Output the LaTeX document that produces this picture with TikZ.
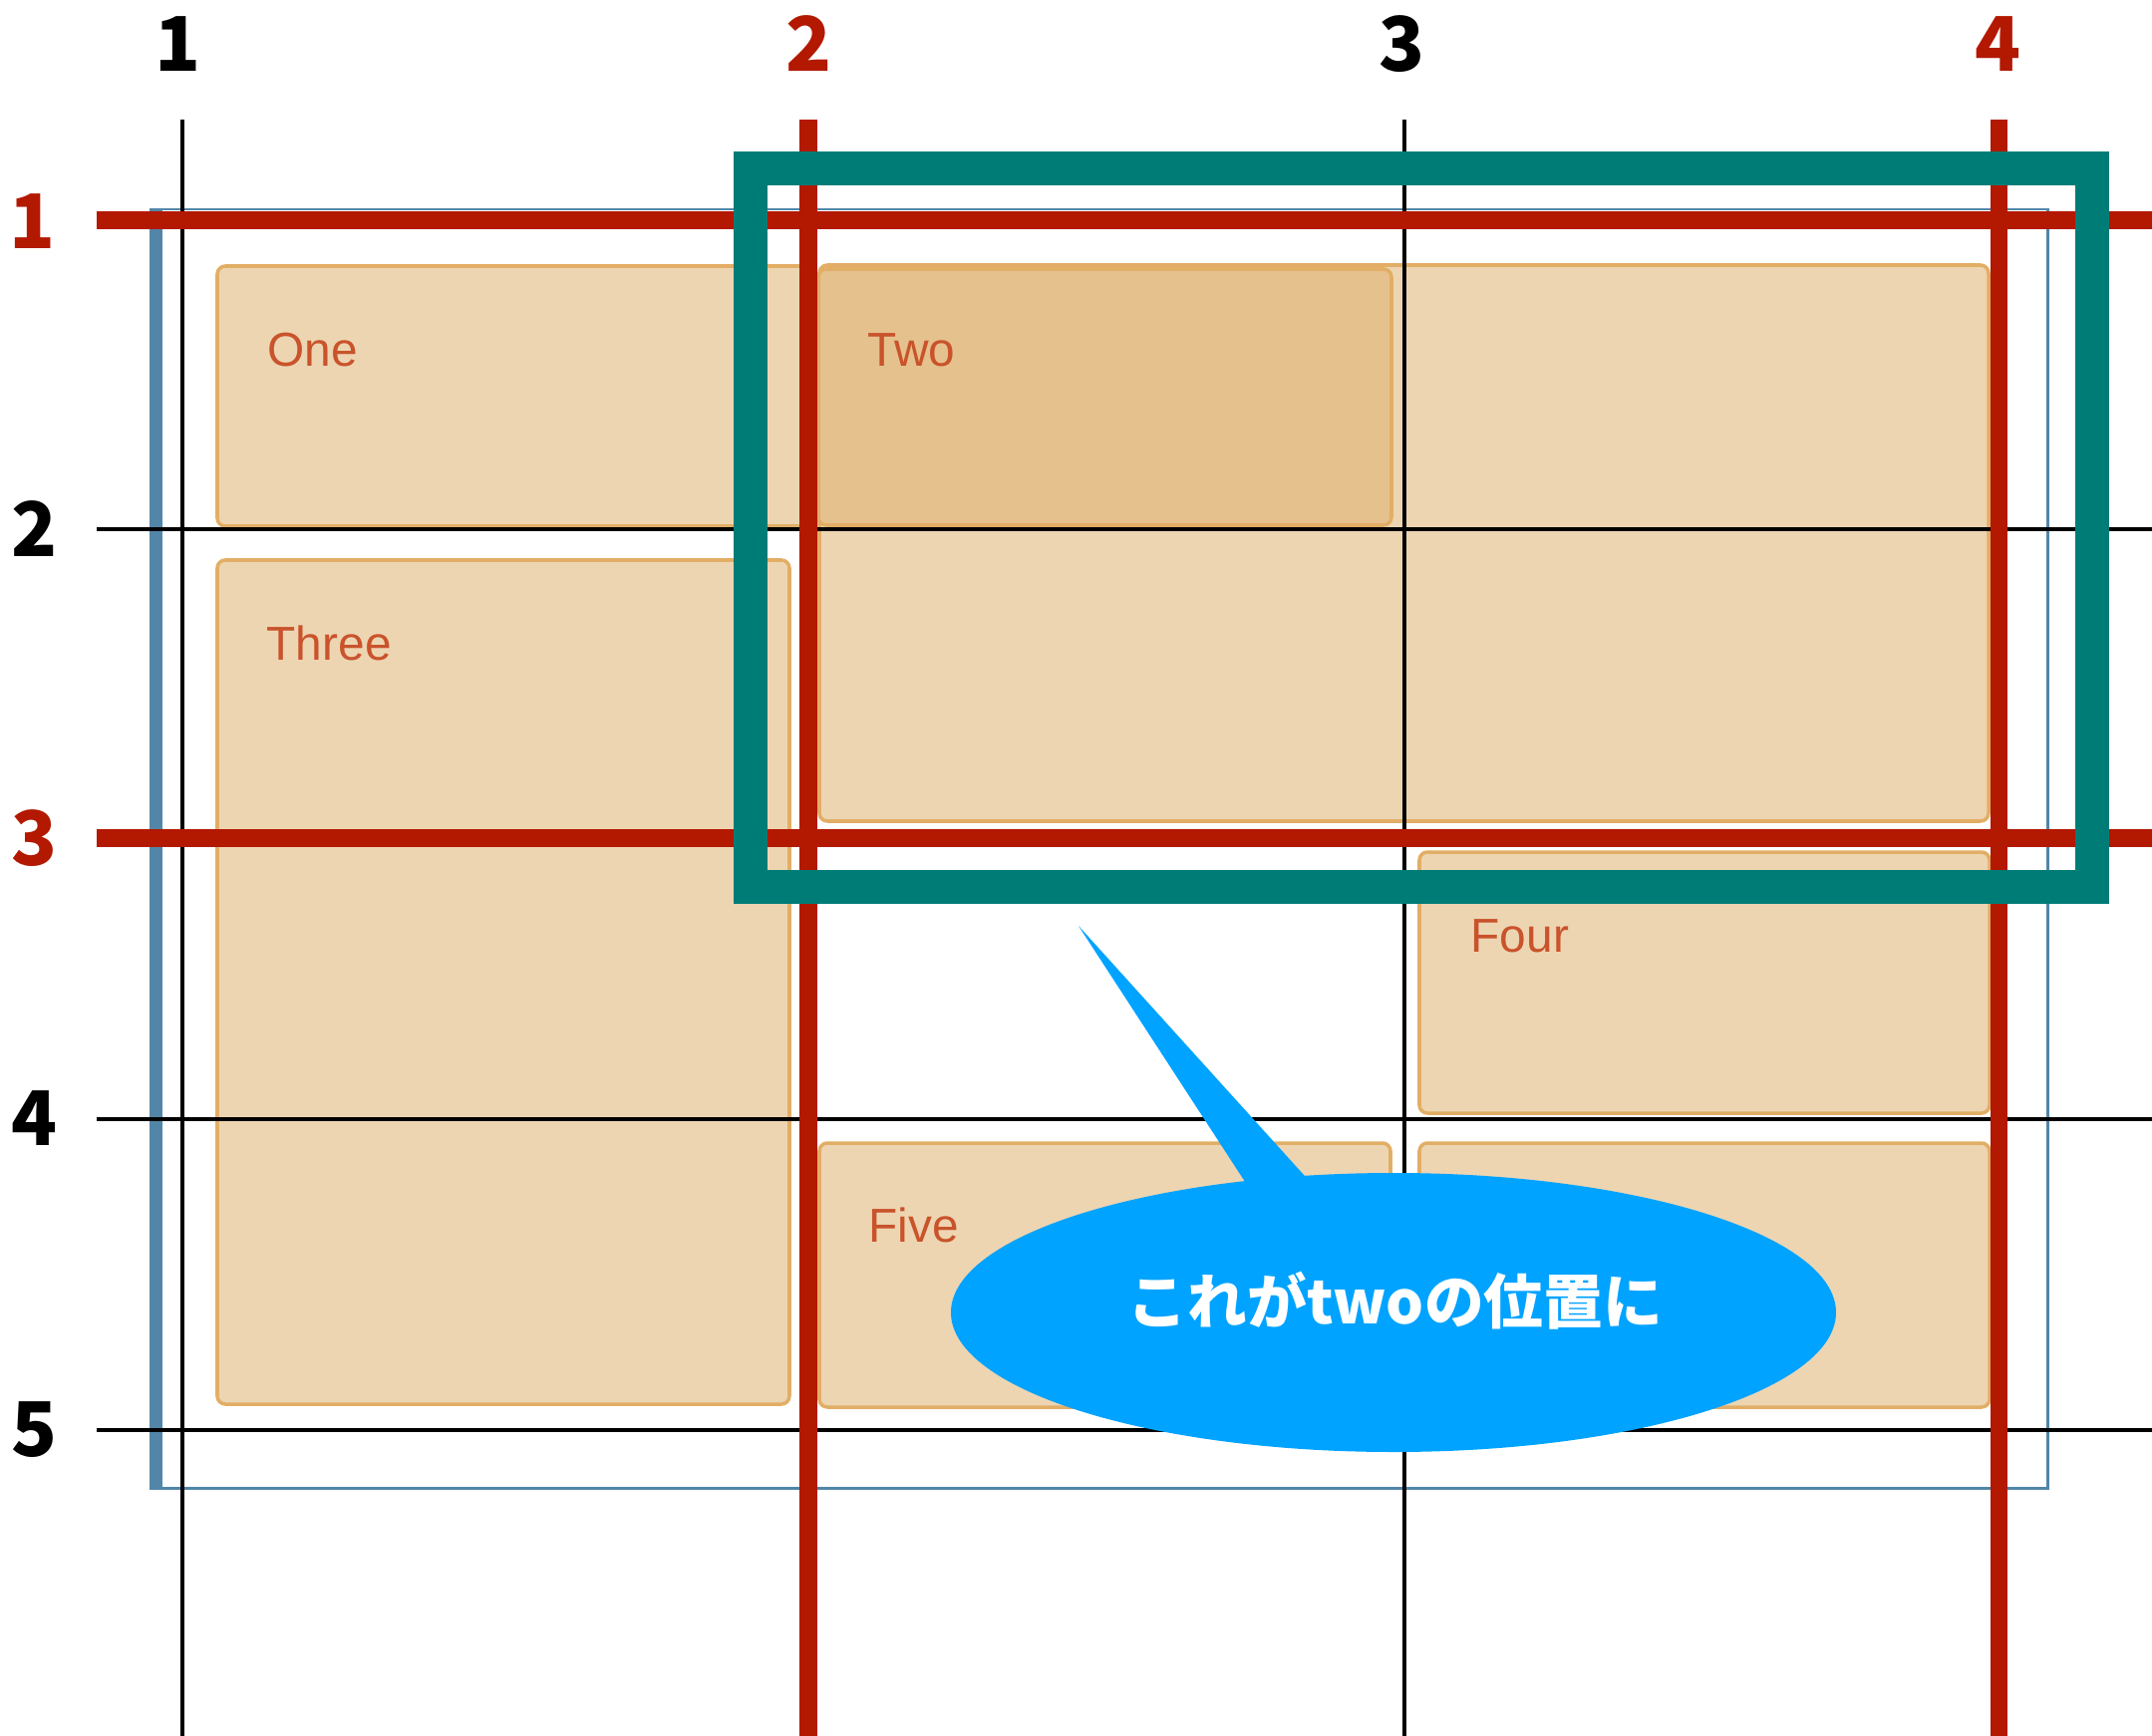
\documentclass[tikz,border=0pt]{standalone}
\usepackage{fontspec}
\setmainfont{Liberation Sans}
\newfontfamily\cjk{Noto Sans CJK JP}
\definecolor{gridred}{HTML}{B31800}
\definecolor{tealc}{HTML}{007C76}
\definecolor{contblue}{HTML}{5286A8}
\definecolor{callblue}{HTML}{00A3FF}
\definecolor{boxfill}{HTML}{EDD5B2}
\definecolor{boxline}{HTML}{E2AE66}
\definecolor{boxdark}{HTML}{E5C18D}
\definecolor{lbltext}{HTML}{C9532B}
\tikzset{
  gbox/.style={draw=boxline, fill=boxfill, line width=1pt, rounded corners=2.3pt},
  gdark/.style={gbox, fill=boxdark},
  lbl/.style={anchor=base west, inner sep=0pt, text=lbltext, font=\fontsize{13.6pt}{16pt}\selectfont},
  numlbl/.style={inner sep=0pt, font=\cjk\bfseries\fontsize{21.5pt}{24pt}\selectfont},
  blackline/.style={draw=black, line width=1.2pt},
  redline/.style={draw=gridred, line width=4.84pt},
}
\begin{document}
\begin{tikzpicture}[x=0.01cm,y=-0.01cm]
\useasboundingbox (0,0) rectangle (2159,1742);
% container
\draw[contblue, line width=0.85pt] (151,210) rectangle (2054,1493);
\fill[contblue] (150,210) rectangle (163,1493);
% boxes
\draw[gbox] (218,267) rectangle (818,528);
\draw[gbox] (822,266) rectangle (1995,824);
\draw[gdark] (821,270) rectangle (1396,527);
\draw[gbox] (218,562) rectangle (792,1409);
\draw[gbox] (1424,855) rectangle (1996,1117);
\draw[gbox] (822,1147) rectangle (1395,1412);
\draw[gbox] (1424,1147) rectangle (1996,1412);
% box labels
\node[lbl] (one) at (268,367) {One};
\node[lbl] (two) at (870,367) {Two};
\node[lbl] (three) at (267,662) {Three};
\node[lbl] (four) at (1475,955) {Four};
\node[lbl] (five) at (871,1246) {Five};
% grid lines
\coordinate (v1t) at (183,120); \coordinate (v1b) at (183,1742);
\coordinate (v3t) at (1409,120); \coordinate (v3b) at (1409,1742);
\coordinate (h2l) at (97,531); \coordinate (h2r) at (2159,531);
\coordinate (h4l) at (97,1123); \coordinate (h4r) at (2159,1123);
\coordinate (h5l) at (97,1435); \coordinate (h5r) at (2159,1435);
\draw[blackline] (v1t) -- (v1b);
\draw[blackline] (v3t) -- (v3b);
\draw[blackline] (h2l) -- (h2r);
\draw[blackline] (h4l) -- (h4r);
\draw[blackline] (h5l) -- (h5r);
\coordinate (v2t) at (811,120); \coordinate (v2b) at (811,1742);
\coordinate (v4t) at (2005,120); \coordinate (v4b) at (2005,1742);
\coordinate (h1l) at (97,221); \coordinate (h1r) at (2159,221);
\coordinate (h3l) at (97,841); \coordinate (h3r) at (2159,841);
\draw[redline] (v2t) -- (v2b);
\draw[redline] (v4t) -- (v4b);
\draw[redline] (h1l) -- (h1r);
\draw[redline] (h3l) -- (h3r);
% number labels
\node[numlbl, text=black] (c1) at (179,44) {1};
\node[numlbl, text=gridred] (c2) at (812,44) {2};
\node[numlbl, text=black] (c3) at (1407,44) {3};
\node[numlbl, text=gridred] (c4) at (2005,44) {4};
\node[numlbl, text=gridred] (r1) at (33,222) {1};
\node[numlbl, text=black] (r2) at (35,531) {2};
\node[numlbl, text=gridred] (r3) at (35,841) {3};
\node[numlbl, text=black] (r4) at (35,1122) {4};
\node[numlbl, text=black] (r5) at (35,1435) {5};
% teal highlight
\draw[tealc, line width=9.67pt] (752.5,168.5) rectangle (2099,889.5);
% callout
\fill[callblue] (1082,929) -- (1318,1190) -- (1255,1195) -- cycle;
\fill[callblue] (1398,1317) ellipse [x radius=444, y radius=140];
\node[text=white, inner sep=0pt, font=\cjk\bfseries\fontsize{17pt}{20pt}\selectfont] (call) at (1400,1305) {これがtwoの位置に};
\end{tikzpicture}
\end{document}
